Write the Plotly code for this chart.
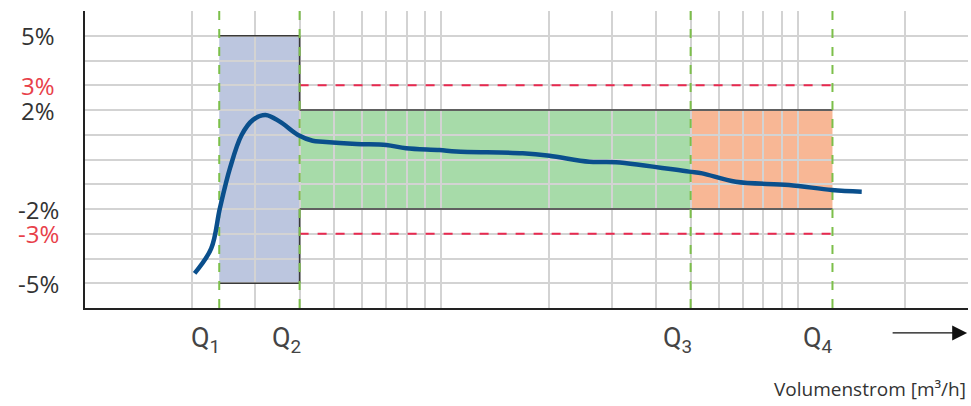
import math
import plotly.graph_objects as go

# ---- data ----
q_names = ["Q<sub>1</sub>", "Q<sub>2</sub>", "Q<sub>3</sub>", "Q<sub>4</sub>"]
q_values = [0.238, 0.40, 5.0, 12.5]

curve_x = [0.203, 0.226, 0.239, 0.255, 0.275, 0.296, 0.321, 0.352, 0.396, 0.435,
           0.464, 0.577, 0.700, 0.796, 0.987, 1.10, 1.69, 2.01, 2.60, 3.09,
           4.95, 5.39, 6.69, 9.43, 12.45, 15.1]
curve_y = [-4.60, -3.59, -1.97, -0.36, 0.99, 1.60, 1.80, 1.53, 0.99, 0.76,
           0.72, 0.63, 0.59, 0.45, 0.38, 0.32, 0.25, 0.15, -0.09, -0.11,
           -0.49, -0.56, -0.90, -1.03, -1.23, -1.30]

ytick_vals = [5, 3, 2, -2, -3, -5]
ytick_text = ["5%", "3%", "2%", "-2%", "-3%", "-5%"]
ytick_colors = ["#333333", "#e8414a", "#333333", "#333333", "#e8414a", "#333333"]

x_grid = [0.2, 0.3, 0.4, 0.5, 0.6, 0.7, 0.8, 0.9, 1, 2, 3, 4, 5, 6, 7, 8, 9, 10, 20, 30]
y_grid = list(range(-6, 7))

mpe_limit = 5      # low range limit
mpe_upper = 2      # upper range limit
mpe_ext = 3        # red dashed limits

x_range = [0.1, 30]
y_range = [-6, 6]
x_label = "Volumenstrom [m³/h]"

FONT = "Open Sans"
QFONT = "Roboto"
q1, q2, q3, q4 = q_values

fig = go.Figure()

fig.add_trace(go.Scatter(
    x=curve_x, y=curve_y, mode="lines",
    line=dict(color="#0a4f8c", width=4.5, shape="spline", smoothing=1.0),
    hoverinfo="skip", showlegend=False,
))

shapes = []
# filled zones (below gridlines)
shapes.append(dict(type="rect", xref="x", yref="y", x0=q1, x1=q2, y0=-mpe_limit, y1=mpe_limit,
                   fillcolor="#bcc6df", line=dict(width=0), layer="below"))
shapes.append(dict(type="rect", xref="x", yref="y", x0=q2, x1=q3, y0=-mpe_upper, y1=mpe_upper,
                   fillcolor="#a7dba9", line=dict(width=0), layer="below"))
shapes.append(dict(type="rect", xref="x", yref="y", x0=q3, x1=q4, y0=-mpe_upper, y1=mpe_upper,
                   fillcolor="#f8b795", line=dict(width=0), layer="below"))

blk = dict(color="#3a3a3a", width=1.6)
for s in (1, -1):
    shapes.append(dict(type="line", xref="x", yref="y", x0=q1, x1=q2, y0=s * mpe_limit, y1=s * mpe_limit,
                       line=blk, layer="between"))
    shapes.append(dict(type="line", xref="x", yref="y", x0=q2, x1=q2, y0=s * mpe_limit, y1=s * mpe_upper,
                       line=blk, layer="between"))
    shapes.append(dict(type="line", xref="x", yref="y", x0=q2, x1=q4, y0=s * mpe_upper, y1=s * mpe_upper,
                       line=blk, layer="between"))
    shapes.append(dict(type="line", xref="x", yref="y", x0=q2, x1=q4, y0=s * mpe_ext, y1=s * mpe_ext,
                       line=dict(color="#e8294f", width=2, dash="dash"), layer="between"))

for q in q_values:
    shapes.append(dict(type="line", xref="x", yref="y", x0=q, x1=q, y0=y_range[0], y1=y_range[1],
                       line=dict(color="#7cbf4a", width=2, dash="dash"), layer="between"))

annotations = []
for v, t, c in zip(ytick_vals, ytick_text, ytick_colors):
    annotations.append(dict(xref="paper", yref="y", x=0, y=v, text=t, showarrow=False,
                            xanchor="center", yanchor="middle", xshift=-47, borderpad=0,
                            font=dict(family=FONT, size=24, color=c)))

for name, q in zip(q_names, q_values):
    annotations.append(dict(xref="x", yref="paper", x=math.log10(q), y=-0.108, text=name,
                            showarrow=False, xanchor="right", yanchor="middle", xshift=3,
                            font=dict(family=QFONT, size=27, color="#444444")))

# arrow
annotations.append(dict(xref="paper", yref="paper", x=0.999, y=-0.084, text="",
                        showarrow=True, ax=-76, ay=0, axref="pixel", ayref="pixel",
                        arrowhead=2, arrowsize=2.3, arrowwidth=1.3, arrowcolor="#111111"))
annotations.append(dict(xref="paper", yref="paper", x=1.0, y=-0.273, text=x_label,
                        showarrow=False, xanchor="right", yanchor="middle",
                        font=dict(family=FONT, size=19, color="#333333")))

fig.update_layout(
    width=971, height=406,
    margin=dict(l=85, r=3, t=11, b=98),
    paper_bgcolor="white", plot_bgcolor="white",
    shapes=shapes, annotations=annotations,
    showlegend=False,
    xaxis=dict(type="log", range=[math.log10(x_range[0]), math.log10(x_range[1])],
               tickvals=x_grid, showticklabels=False, ticks="",
               showgrid=True, gridcolor="#d3d3d3", gridwidth=1.5,
               showline=True, linecolor="#222222", linewidth=1.5, zeroline=False,
               fixedrange=True),
    yaxis=dict(range=y_range, tickvals=y_grid, showticklabels=False, ticks="",
               showgrid=True, gridcolor="#d3d3d3", gridwidth=1.5,
               showline=True, linecolor="#222222", linewidth=1.5, zeroline=False,
               fixedrange=True),
)

fig.write_html("out.html", config={"displayModeBar": False},
               post_script="document.body.style.margin='0px';")
